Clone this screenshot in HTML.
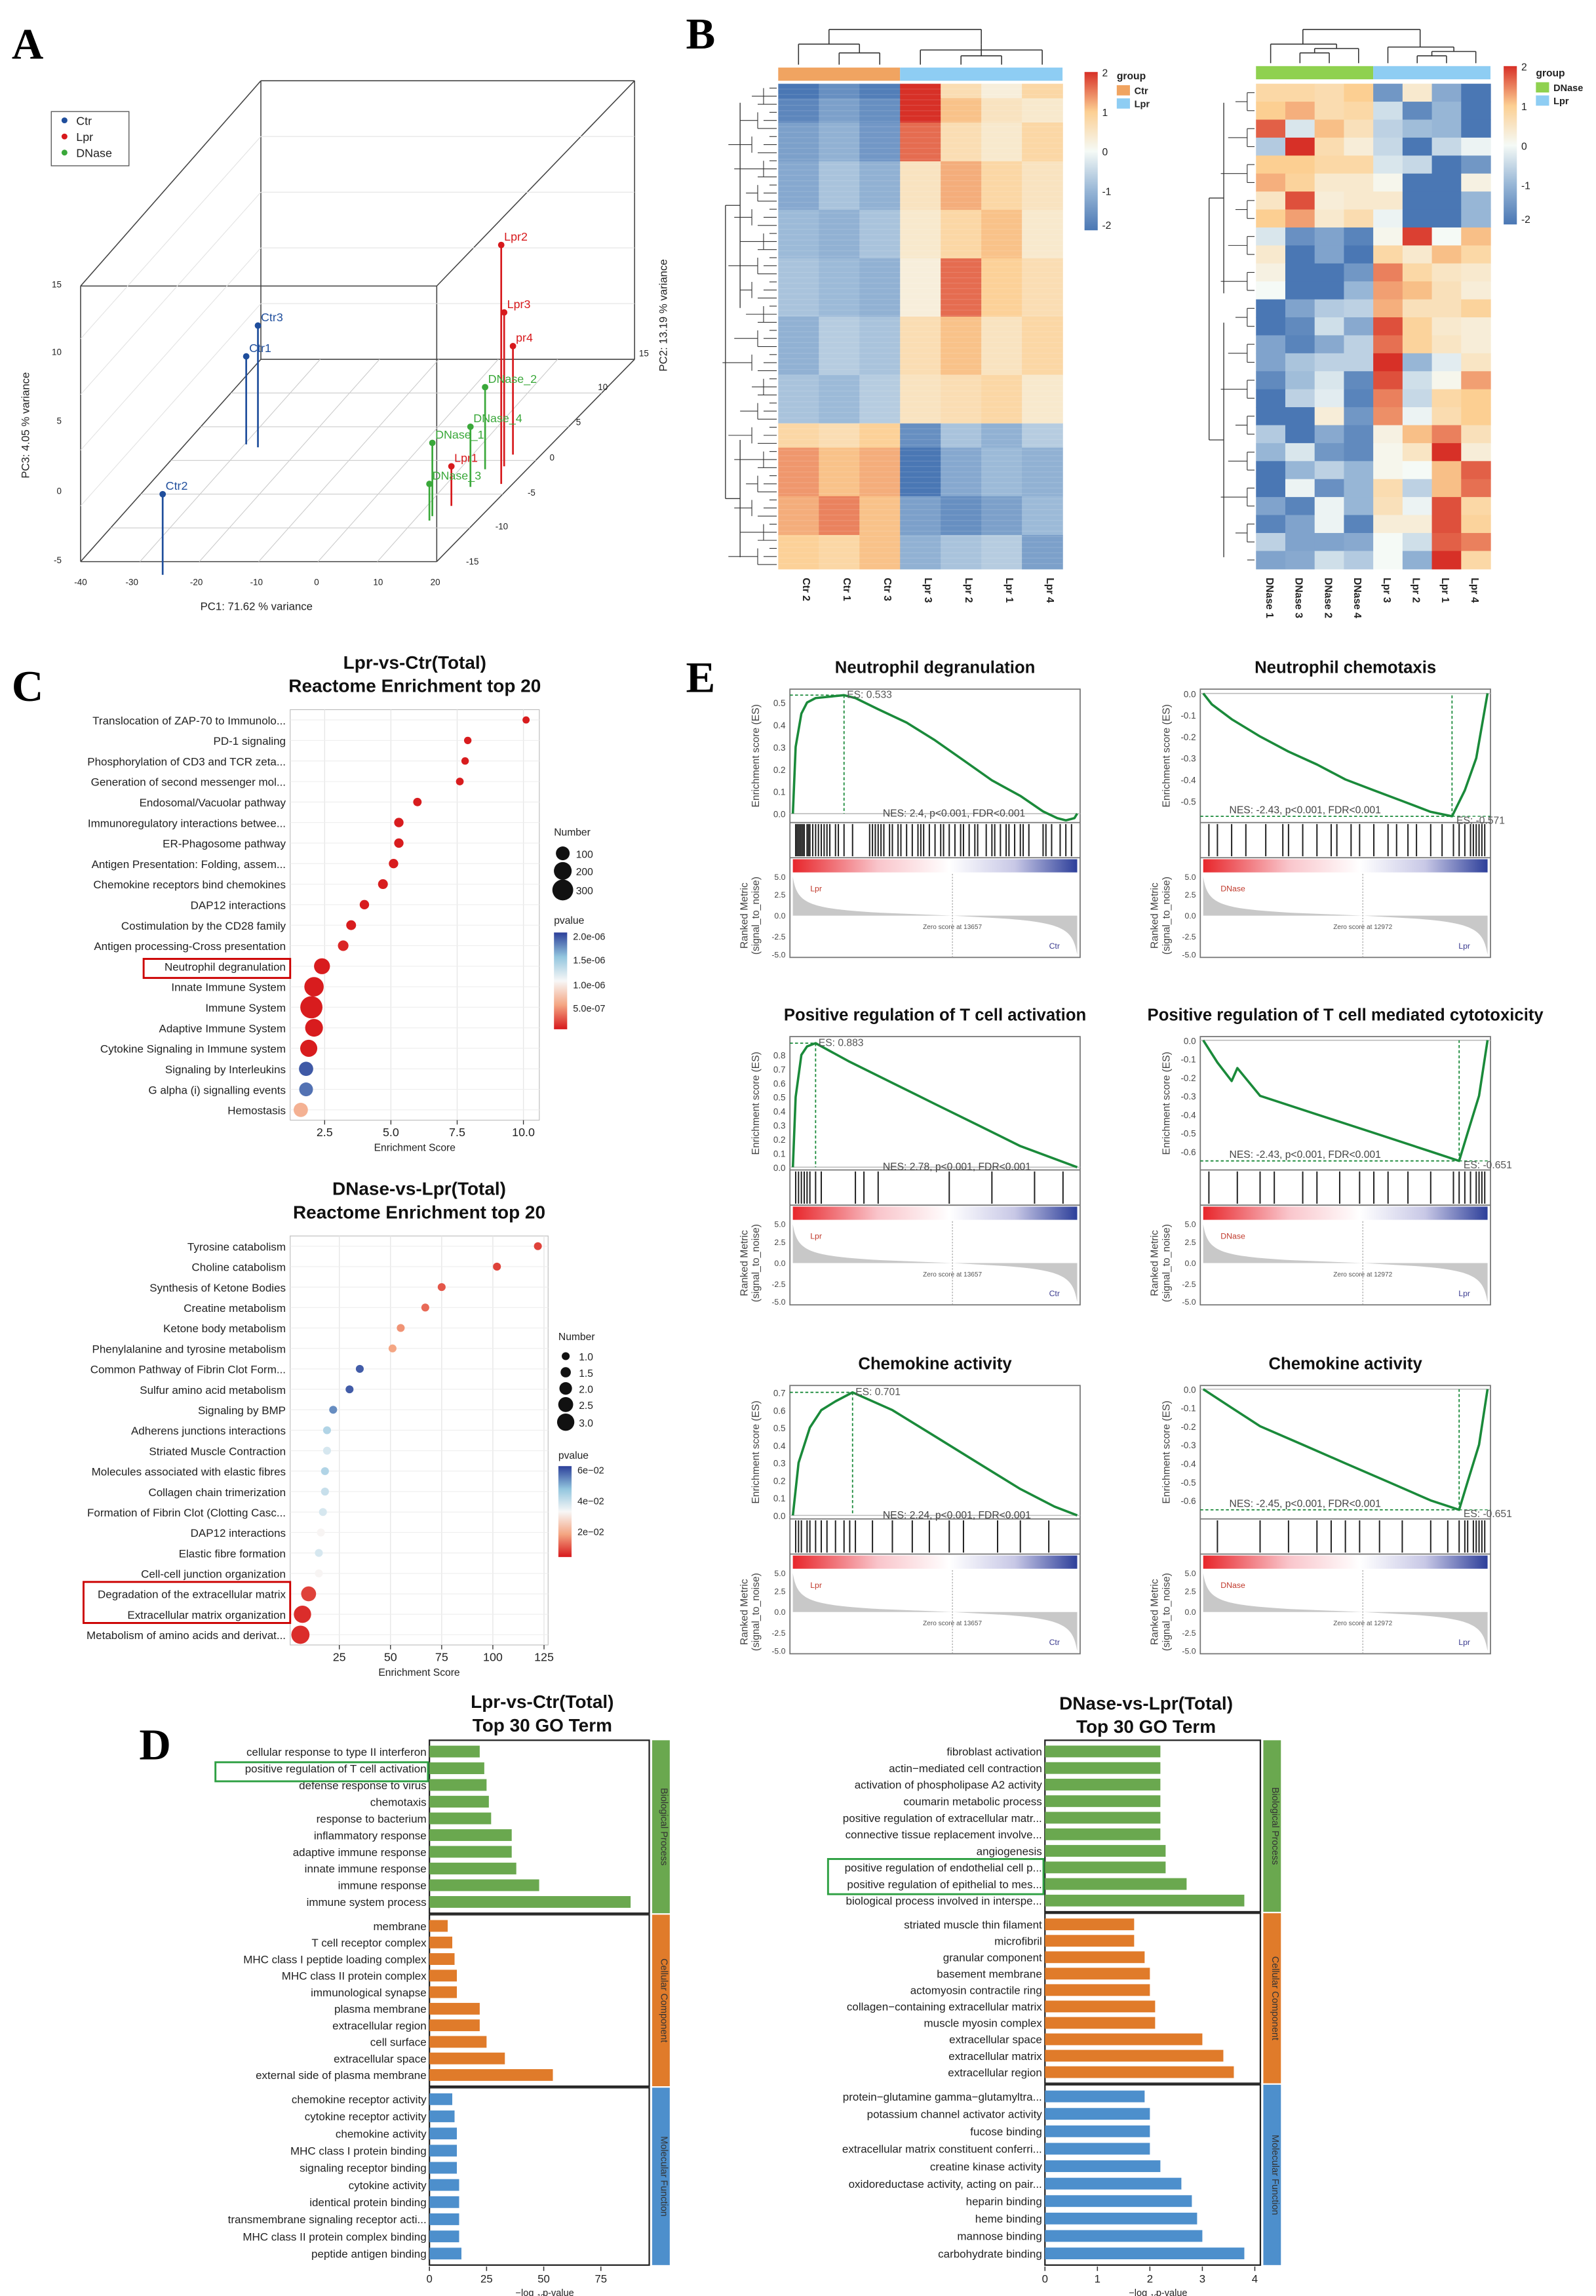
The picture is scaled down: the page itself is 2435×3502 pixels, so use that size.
<!DOCTYPE html>
<html><head><meta charset="utf-8"><style>
html,body{margin:0;padding:0;background:#fff;}
svg{display:block;font-family:"Liberation Sans",Arial,sans-serif;}
</style></head><body>
<svg id="fig" xmlns="http://www.w3.org/2000/svg" width="2435" height="3502" viewBox="0 0 1089 1566"></svg>
<script>
// ---------- DATA ----------
const pcaLabels=["Ctr1","Ctr2","Ctr3","Lpr1","Lpr2","Lpr3","pr4","DNase_1","DNase_2","DNase_3","DNase_4"];
const pcaGroup=["Ctr","Ctr","Ctr","Lpr","Lpr","Lpr","Lpr","DNase","DNase","DNase","DNase"];
const pcaPX=[168,111,176,308,342,344,350,295,331,293,321];
const pcaPY=[243,337,222,318,167,213,236,302,264,330,291];
const pcaBase=[303,392,305,345,330,318,310,352,320,355,332];
const hmLeftCols=["Ctr 2","Ctr 1","Ctr 3","Lpr 3","Lpr 2","Lpr 1","Lpr 4"];
const hmLeftBlockRows=[3,5,8,10,10,12,12,10,5,10,8,7];
const hmLeftBlockVals=[
[-1.5,-1.2,-1.4,1.8,0.5,0.2,0.6],[-1.3,-1.0,-1.2,1.5,0.8,0.4,0.3],[-1.0,-0.8,-1.1,1.2,0.5,0.3,0.6],
[-0.9,-0.6,-0.8,0.4,0.9,0.6,0.4],[-0.7,-0.8,-0.6,0.3,0.6,0.8,0.3],[-0.6,-0.7,-0.8,0.2,1.2,0.7,0.5],
[-0.8,-0.5,-0.6,0.5,0.8,0.4,0.6],[-0.6,-0.7,-0.5,0.4,0.5,0.6,0.3],[0.6,0.5,0.7,-1.2,-0.6,-0.8,-0.5],
[1.0,0.8,0.9,-1.5,-0.9,-0.7,-0.8],[0.9,1.1,0.8,-1.0,-1.2,-1.0,-0.7],[0.7,0.6,0.8,-0.8,-0.6,-0.5,-1.0]];
const hmRightCols=["DNase 1","DNase 3","DNase 2","DNase 4","Lpr 3","Lpr 2","Lpr 1","Lpr 4"];
const hmRight=[
[.8,.8,.7,1,-1.5,.4,-1.2,-2],[1,1.2,.7,.8,-.4,-1.7,-1,-2],[1.7,-.3,1.1,.6,-.6,-.9,-1,-2],
[-.7,2,.7,.3,-.5,-2,-.5,-.1],[1,1,.8,.8,-.3,-.5,-2,-1.5],[1.2,.9,.4,.4,.1,-2,-2,.2],
[.5,1.8,.3,.4,.4,-2,-2,-1],[1,1.3,.4,.7,-.1,-2,-2,-1],[-.3,-1.6,-1.3,-1.8,.1,1.9,0,1.1],
[.4,-2,-1.3,-2,.8,.4,1.1,.8],[.2,-2,-2,-1.5,1.5,.8,.5,.4],[0,-2,-2,-1,1.3,1.1,.6,.3],
[-2,-1.3,-.7,-.6,1.2,.6,.6,.9],[-2,-1.7,-.4,-1.2,1.8,.9,.4,.3],[-1.3,-1.8,-1.2,-.6,1.6,.9,.5,.3],
[-1.3,-.8,-.6,-.6,2.2,-1,-.2,.5],[-1.7,-.9,-.3,-1.7,1.8,-.4,.1,1.3],[-2,-.6,-.2,-1.8,1.5,-.5,.8,1],
[-2,-2,.3,-1.5,1.4,-.1,.7,1],[-.7,-2,-1.2,-1.7,.2,1.1,1.5,.6],[-1,-.3,-1.5,-1.7,.1,.5,2,.3],
[-2,-1,-.6,-1,.1,0,1.1,1.7],[-2,-.1,-1.6,-1,.7,-.6,1.1,1.6],[-1.3,-1.8,-.1,-1,.6,-.1,1.8,.8],
[-1.8,-1.3,-.1,-1.8,.3,.3,1.8,.9],[-.6,-1.3,-1.3,-1.2,0,-.4,1.7,1.5],[-1.3,-1.2,-.4,-.7,0,-1.1,2.2,.8]];
const c1Terms=["Translocation of ZAP-70 to Immunolo...","PD-1 signaling","Phosphorylation of CD3 and TCR zeta...","Generation of second messenger mol...","Endosomal/Vacuolar pathway","Immunoregulatory interactions betwee...","ER-Phagosome pathway","Antigen Presentation: Folding, assem...","Chemokine receptors bind chemokines","DAP12 interactions","Costimulation by the CD28 family","Antigen processing-Cross presentation","Neutrophil degranulation","Innate Immune System","Immune System","Adaptive Immune System","Cytokine Signaling in Immune system","Signaling by Interleukins","G alpha (i) signalling events","Hemostasis"];
const c1Score=[10.1,7.9,7.8,7.6,6.0,5.3,5.3,5.1,4.7,4.0,3.5,3.2,2.4,2.1,2.0,2.1,1.9,1.8,1.8,1.6];
const c1Count=[10,12,12,14,20,30,30,30,35,30,35,45,150,250,350,200,180,110,100,110];
const c1P=[1e-8,1e-8,1e-8,1e-8,1e-8,1e-8,1e-8,1e-8,1e-8,1e-8,1e-8,5e-8,1e-8,1e-8,1e-8,1e-8,1e-8,2.0e-6,1.9e-6,6e-7];
const c2Terms=["Tyrosine catabolism","Choline catabolism","Synthesis of Ketone Bodies","Creatine metabolism","Ketone body metabolism","Phenylalanine and tyrosine metabolism","Common Pathway of Fibrin Clot Form...","Sulfur amino acid metabolism","Signaling by BMP","Adherens junctions interactions","Striated Muscle Contraction","Molecules associated with elastic fibres","Collagen chain trimerization","Formation of Fibrin Clot (Clotting Casc...","DAP12 interactions","Elastic fibre formation","Cell-cell junction organization","Degradation of the extracellular matrix","Extracellular matrix organization","Metabolism of amino acids and derivat..."];
const c2Score=[122,102,75,67,55,51,35,30,22,19,19,18,18,17,16,15,15,10,7,6];
const c2Count=[1,1,1,1,1,1,1,1,1,1,1,1,1,1,1,1,1,2.5,3,3.2];
const c2P=[.012,.012,.014,.016,.02,.022,.06,.06,.055,.045,.04,.045,.042,.04,.035,.04,.035,.012,.01,.01];
const dLeftTerms=["cellular response to type II interferon","positive regulation of T cell activation","defense response to virus","chemotaxis","response to bacterium","inflammatory response","adaptive immune response","innate immune response","immune response","immune system process","membrane","T cell receptor complex","MHC class I peptide loading complex","MHC class II protein complex","immunological synapse","plasma membrane","extracellular region","cell surface","extracellular space","external side of plasma membrane","chemokine receptor activity","cytokine receptor activity","chemokine activity","MHC class I protein binding","signaling receptor binding","cytokine activity","identical protein binding","transmembrane signaling receptor acti...","MHC class II protein complex binding","peptide antigen binding"];
const dLeftVals=[22,24,25,26,27,36,36,38,48,88,8,10,11,12,12,22,22,25,33,54,10,11,12,12,12,13,13,13,13,14];
const dRightTerms=["fibroblast activation","actin\u2212mediated cell contraction","activation of phospholipase A2 activity","coumarin metabolic process","positive regulation of extracellular matr...","connective tissue replacement involve...","angiogenesis","positive regulation of endothelial cell p...","positive regulation of epithelial to mes...","biological process involved in interspe...","striated muscle thin filament","microfibril","granular component","basement membrane","actomyosin contractile ring","collagen\u2212containing extracellular matrix","muscle myosin complex","extracellular space","extracellular matrix","extracellular region","protein\u2212glutamine gamma\u2212glutamyltra...","potassium channel activator activity","fucose binding","extracellular matrix constituent conferri...","creatine kinase activity","oxidoreductase activity, acting on pair...","heparin binding","heme binding","mannose binding","carbohydrate binding"];
const dRightVals=[2.2,2.2,2.2,2.2,2.2,2.2,2.3,2.3,2.7,3.8,1.7,1.7,1.9,2.0,2.0,2.1,2.1,3.0,3.4,3.6,1.9,2.0,2.0,2.0,2.2,2.6,2.8,2.9,3.0,3.8];
const gTitles=["Neutrophil degranulation","Neutrophil chemotaxis","Positive regulation of T cell activation","Positive regulation of T cell mediated cytotoxicity","Chemokine activity","Chemokine activity"];
const gNES=["NES: 2.4, p<0.001, FDR<0.001","NES: -2.43, p<0.001, FDR<0.001","NES: 2.78, p<0.001, FDR<0.001","NES: -2.43, p<0.001, FDR<0.001","NES: 2.24, p<0.001, FDR<0.001","NES: -2.45, p<0.001, FDR<0.001"];
const gES=[0.533,-0.571,0.883,-0.651,0.701,-0.651];
const gPeakX=[0.18,0.875,0.08,0.9,0.21,0.9];
const gCurveX=[
[0,.01,.03,.05,.08,.12,.18,.22,.3,.4,.5,.6,.7,.8,.88,.93,.96,.99,1],
[0,.03,.1,.2,.3,.4,.5,.6,.7,.8,.875,.92,.96,1],
[0,.01,.03,.05,.08,.2,.35,.5,.65,.8,1],
[0,.05,.1,.12,.2,.4,.6,.8,.9,.93,.97,1],
[0,.02,.06,.1,.15,.21,.35,.5,.65,.8,.92,1],
[0,.1,.2,.35,.5,.65,.8,.9,.93,.97,1]];
const gCurveY=[
[0,.3,.45,.5,.52,.525,.533,.52,.47,.41,.33,.24,.15,.08,.01,-.02,-.03,-.02,0],
[0,-.05,-.12,-.2,-.27,-.33,-.4,-.45,-.5,-.55,-.571,-.45,-.3,0],
[0,.5,.8,.86,.883,.75,.6,.45,.3,.15,0],
[0,-.12,-.22,-.15,-.3,-.4,-.5,-.6,-.651,-.5,-.3,0],
[0,.3,.5,.6,.65,.701,.6,.45,.3,.15,.05,0],
[0,-.1,-.2,-.3,-.4,-.5,-.6,-.651,-.5,-.3,0]];
const gYMin=[-0.04,-0.6,-0.02,-0.7,-0.02,-0.7];
const gYMax=[0.56,0.02,0.93,0.02,0.74,0.02];
const gTicks=[[0,.1,.2,.3,.4,.5],[0,-.1,-.2,-.3,-.4,-.5],[0,.1,.2,.3,.4,.5,.6,.7,.8],[0,-.1,-.2,-.3,-.4,-.5,-.6],[0,.1,.2,.3,.4,.5,.6,.7],[0,-.1,-.2,-.3,-.4,-.5,-.6]];
const gHits=[
[.01,.015,.02,.025,.03,.035,.04,.05,.055,.06,.07,.08,.09,.1,.11,.12,.13,.15,.16,.18,.21,.27,.28,.29,.3,.31,.32,.34,.35,.37,.38,.4,.42,.44,.45,.46,.48,.5,.52,.53,.55,.57,.59,.6,.62,.64,.65,.68,.7,.71,.73,.75,.76,.78,.8,.81,.83,.88,.89,.91,.94,.96,.98],
[.02,.05,.1,.15,.22,.28,.3,.35,.4,.45,.47,.52,.55,.6,.65,.68,.72,.75,.8,.84,.88,.9,.92,.94,.95,.96,.97,.98,.99],
[.01,.02,.03,.04,.05,.06,.08,.1,.22,.25,.3,.55,.7,.85,.95],
[.02,.12,.2,.25,.35,.4,.48,.55,.6,.65,.72,.8,.88,.9,.92,.94,.96,.97,.98,.99],
[.01,.02,.03,.05,.06,.08,.1,.12,.15,.18,.2,.22,.28,.35,.42,.48,.55,.6,.72,.8,.9],
[.05,.2,.3,.4,.45,.5,.55,.62,.7,.8,.86,.9,.92,.93,.95,.96,.97,.98,.99]];
const gPos=["Lpr","DNase","Lpr","DNase","Lpr","DNase"];
const gNeg=["Ctr","Lpr","Ctr","Lpr","Ctr","Lpr"];
const gZero=["Zero score at 13657","Zero score at 12972","Zero score at 13657","Zero score at 12972","Zero score at 13657","Zero score at 12972"];

// ---------- HELPERS ----------
const NS="http://www.w3.org/2000/svg";
const svg=document.getElementById('fig');
function mk(tag,a,name,p){const e=document.createElementNS(NS,tag);for(const k in a)e.setAttribute(k,a[k]);


(p||svg).appendChild(e);return e;}
function tx(x,y,s,size,name,o){o=o||{};const e=mk('text',Object.assign({x:x,y:y,'font-size':size,fill:o.fill||'#222','text-anchor':o.anchor||'start'},o.attr||{}),name);if(o.bold)e.setAttribute('font-weight','bold');if(o.rot)e.setAttribute('transform','rotate('+o.rot+' '+x+' '+y+')');e.textContent=s;return e;}
function ln(x1,y1,x2,y2,c,w,name,dash){const a={x1:x1,y1:y1,x2:x2,y2:y2,stroke:c,'stroke-width':w};if(dash)a['stroke-dasharray']=dash;return mk('line',a,name);}
function rc(x,y,w,h,f,name,s,sw){const a={x:x,y:y,width:w,height:h,fill:f};if(s){a.stroke=s;a['stroke-width']=sw||1;}return mk('rect',a,name);}
function hexmix(a,b,t){const pa=[1,3,5].map(i=>parseInt(a.substr(i,2),16)),pb=[1,3,5].map(i=>parseInt(b.substr(i,2),16));return 'rgb('+pa.map((v,i)=>Math.round(v+(pb[i]-v)*t)).join(',')+')';}
const hmStops=['#4a77b4','#97b6d6','#f5faf6','#fccf92','#d73027'];
function hmColor(v){v=Math.max(-2,Math.min(2,v));const p=(v+2);const i=Math.min(3,Math.floor(p));return hexmix(hmStops[i],hmStops[i+1],p-i);}
rc(0,0,1089,1566,'#fff','background');

[["A",8,40],["B",468,33],["C",8,478],["E",468,472],["D",95,1200]].forEach(L=>{tx(L[1],L[2],L[0],30,'panel-label-'+L[0].toLowerCase(),{bold:true,fill:'#000',attr:{'font-family':'Liberation Serif, serif'}});});

// ---------- PANEL A ----------
(function(){
const c='#444';
[[55,195,55,383],[55,383,298,383],[298,383,298,195],[55,195,298,195],[178,55,433,55],[433,55,433,245],[55,195,178,55],[298,195,433,55],[298,383,433,245],[55,383,178,245],[178,245,433,245],[178,55,178,245]].forEach(s=>ln(s[0],s[1],s[2],s[3],c,0.7,'pca-box-edge'));
for(let i=1;i<6;i++){const x=55+i*243/6;ln(x,383,x+123,245,'#ccc',0.5,'pca-floor-grid');}
for(let i=1;i<6;i++){const t=i/6;ln(55+123*t,383-138*t,298+135*t,383-138*t,'#ccc',0.5,'pca-floor-grid');}
for(let i=1;i<5;i++){const y=245-i*190/5;ln(178,y,433,y,'#e3e3e3',0.5,'pca-back-grid');ln(55,y+138,178,y,'#e3e3e3',0.5,'pca-side-grid');}
const col={Ctr:'#1f4e9c',Lpr:'#d7191c',DNase:'#3aa83a'};
pcaLabels.forEach((l,i)=>{const cc=col[pcaGroup[i]];ln(pcaPX[i],pcaPY[i],pcaPX[i],pcaBase[i],cc,1.2,'pca-stem-'+l);mk('circle',{cx:pcaPX[i],cy:pcaPY[i],r:2.2,fill:cc},'pca-point-'+l);tx(pcaPX[i]+2,pcaPY[i]-3,l,8,'pca-label-'+l,{fill:cc});});
[["-40",55],["-30",90],["-20",134],["-10",175],["0",216],["10",258],["20",297]].forEach(t=>tx(t[1],399,t[0],6,'pc1-tick',{anchor:'middle'}));
tx(175,416,'PC1: 71.62 % variance',7.5,'pc1-axis-title',{anchor:'middle'});
[["15",196],["10",242],["5",289],["0",337],["-5",384]].forEach(t=>tx(42,t[1],t[0],6,'pc3-tick',{anchor:'end'}));
tx(20,290,'PC3: 4.05 % variance',7.5,'pc3-axis-title',{anchor:'middle',rot:-90});
[["15",436,243],["10",408,266],["5",393,290],["0",375,314],["-5",360,338],["-10",338,361],["-15",318,385]].forEach(t=>tx(t[1],t[2],t[0],6,'pc2-tick'));
tx(455,215,'PC2: 13.19 % variance',7.5,'pc2-axis-title',{anchor:'middle',rot:-90});
rc(35,76,53,37,'#fff','pca-legend-box','#555',0.6);
[["Ctr",col.Ctr,85],["Lpr",col.Lpr,96],["DNase",col.DNase,107]].forEach(l=>{mk('circle',{cx:44,cy:l[2]-3,r:2,fill:l[1]},'pca-legend-marker');tx(52,l[2],l[0],8,'pca-legend-label');});
})();

// ---------- PANEL B ----------
(function(){
const x0=531,y0=57,w=194,h=331,cw=w/7;let acc=0;const tot=hmLeftBlockRows.reduce((a,b)=>a+b,0);
const vis=1.35;
hmLeftBlockRows.forEach((r,bi)=>{const yy=y0+acc/tot*h,hh=r/tot*h;hmLeftBlockVals[bi].forEach((v,ci)=>rc(x0+ci*cw,yy,cw+0.3,hh+0.3,hmColor(v*vis),'heatmap-left-cell'));acc+=r;});
for(let i=0;i<90;i++){const yy=y0+i*h/90;mk('line',{x1:x0,y1:yy,x2:x0+w,y2:yy,stroke:'#fff','stroke-opacity':0.12,'stroke-width':0.6},'heatmap-left-row-sep');}
rc(x0,46,cw*3,9,'#f0a461','group-bar-ctr');rc(x0+cw*3,46,cw*4,9,'#8ecdf3','group-bar-lpr');
hmLeftCols.forEach((c,i)=>tx(x0+cw*i+cw/2+3,394,c,7,'heatmap-left-col-label',{bold:true,rot:90}));
[[x0+cw*0.5,44,x0+cw*0.5,30],[x0+cw*1.5,44,x0+cw*1.5,36],[x0+cw*2.5,44,x0+cw*2.5,36],[x0+cw*1.5,36,x0+cw*2.5,36],[x0+cw*2,36,x0+cw*2,30],[x0+cw*0.5,30,x0+cw*2,30],
[x0+cw*3.5,44,x0+cw*3.5,34],[x0+cw*4.5,44,x0+cw*4.5,38],[x0+cw*5.5,44,x0+cw*5.5,38],[x0+cw*4.5,38,x0+cw*5.5,38],[x0+cw*6.5,44,x0+cw*6.5,34],[x0+cw*5,38,x0+cw*5,34],[x0+cw*3.5,34,x0+cw*6.5,34],[x0+cw*5,34,x0+cw*5,30],
[x0+cw*1.25,30,x0+cw*1.25,20],[x0+cw*5,30,x0+cw*5,20],[x0+cw*1.25,20,x0+cw*5,20]].forEach(s=>ln(s[0],s[1],s[2],s[3],'#333',0.7,'heatmap-left-col-dendrogram'));
for(let i=0;i<60;i++){const y=y0+3+i*(h-6)/59;ln(x0-1,y,x0-6-(i%3)*4,y,'#333',0.5,'heatmap-left-row-dendrogram');}
for(let i=0;i<20;i++){const y1=y0+3+i*3*(h-6)/59,y2=y1+2*(h-6)/59,xx=x0-6-(i%3)*4-4;ln(xx,y1,xx,y2,'#333',0.5,'heatmap-left-row-dendrogram');ln(xx,(y1+y2)/2,xx-8-(i%4)*4,(y1+y2)/2,'#333',0.5,'heatmap-left-row-dendrogram');}
ln(495,140,495,340,'#333',0.6,'heatmap-left-row-dendrogram');ln(495,140,505,140,'#333',0.6,'heatmap-left-row-dendrogram');ln(495,340,505,340,'#333',0.6,'heatmap-left-row-dendrogram');
ln(505,70,505,210,'#333',0.6,'heatmap-left-row-dendrogram');ln(505,300,505,380,'#333',0.6,'heatmap-left-row-dendrogram');
function cbar(x,y,nm){const g=mk('linearGradient',{id:nm+'-g',x1:0,y1:1,x2:0,y2:0},nm+'-gradient');hmStops.forEach((c,i)=>mk('stop',{offset:i/4,'stop-color':c},'gradient-stop',g));rc(x,y,9,108,'url(#'+nm+'-g)',nm);
[["2",0],["1",27],["0",54],["-1",81],["-2",104]].forEach(t=>tx(x+12,y+t[1]+3,t[0],7,nm+'-tick'));}
cbar(740,49,'heatmap-left-colorbar');
tx(762,54,'group',7,'heatmap-left-legend-title',{bold:true});rc(762,58,9,7,'#f0a461','legend-ctr-swatch');tx(774,64,'Ctr',6.5,'legend-ctr-label',{bold:true});rc(762,67,9,7,'#8ecdf3','legend-lpr-swatch');tx(774,73,'Lpr',6.5,'legend-lpr-label',{bold:true});
const rx=857,ry=57,rw=160,rh=331,rcw=rw/8,rrh=rh/hmRight.length;
hmRight.forEach((row,ri)=>row.forEach((v,ci)=>rc(rx+ci*rcw,ry+ri*rrh,rcw+0.3,rrh+0.3,hmColor(v),'heatmap-right-cell')));
rc(rx,45,rcw*4,9,'#8fd14f','group-bar-dnase');rc(rx+rcw*4,45,rcw*4,9,'#8ecdf3','group-bar-lpr-right');
hmRightCols.forEach((c,i)=>tx(rx+rcw*i+rcw/2-3,394,c,7,'heatmap-right-col-label',{bold:true,rot:90}));
[[rx+rcw*.5,43,rx+rcw*.5,30],[rx+rcw*1.5,43,rx+rcw*1.5,36],[rx+rcw*2.5,43,rx+rcw*2.5,36],[rx+rcw*3.5,43,rx+rcw*3.5,33],[rx+rcw*1.5,36,rx+rcw*2.5,36],[rx+rcw*2,36,rx+rcw*2,33],[rx+rcw*2,33,rx+rcw*3.5,33],[rx+rcw*2.75,33,rx+rcw*2.75,30],[rx+rcw*.5,30,rx+rcw*2.75,30],
[rx+rcw*4.5,43,rx+rcw*4.5,32],[rx+rcw*5.5,43,rx+rcw*5.5,38],[rx+rcw*6.5,43,rx+rcw*6.5,38],[rx+rcw*5.5,38,rx+rcw*6.5,38],[rx+rcw*7.5,43,rx+rcw*7.5,35],[rx+rcw*6,38,rx+rcw*6,35],[rx+rcw*6,35,rx+rcw*7.5,35],[rx+rcw*6.75,35,rx+rcw*6.75,32],[rx+rcw*4.5,32,rx+rcw*6.75,32],
[rx+rcw*1.6,30,rx+rcw*1.6,20],[rx+rcw*5.6,32,rx+rcw*5.6,20],[rx+rcw*1.6,20,rx+rcw*5.6,20]].forEach(s=>ln(s[0],s[1],s[2],s[3],'#333',0.7,'heatmap-right-col-dendrogram'));
hmRight.forEach((r,i)=>{const y=ry+(i+.5)*rrh;ln(rx-1,y,rx-6,y,'#333',0.5,'heatmap-right-row-dendrogram');});
for(let i=0;i<13;i++){const y1=ry+(2*i+.5)*rrh,y2=y1+rrh;ln(rx-6,y1,rx-6,y2,'#333',0.5,'heatmap-right-row-dendrogram');ln(rx-6,(y1+y2)/2,rx-14-(i%3)*5,(y1+y2)/2,'#333',0.5,'heatmap-right-row-dendrogram');}
ln(835,70,835,200,'#333',0.6,'heatmap-right-row-dendrogram');ln(835,220,835,380,'#333',0.6,'heatmap-right-row-dendrogram');ln(825,135,825,300,'#333',0.6,'heatmap-right-row-dendrogram');ln(825,135,835,135,'#333',0.6,'heatmap-right-row-dendrogram');ln(825,300,835,300,'#333',0.6,'heatmap-right-row-dendrogram');
cbar(1026,45,'heatmap-right-colorbar');
tx(1048,52,'group',7,'heatmap-right-legend-title',{bold:true});rc(1048,56,9,7,'#8fd14f','legend-dnase-swatch');tx(1060,62,'DNase',6.5,'legend-dnase-label',{bold:true});rc(1048,65,9,7,'#8ecdf3','legend-lpr-right-swatch');tx(1060,71,'Lpr',6.5,'legend-lpr-right-label',{bold:true});
})();

// ---------- PANEL C ----------
function pColor(t){const st=['#d7191c','#f4a582','#f7f7f7','#92c5de','#2c3f99'];t=Math.max(0,Math.min(1,t));const p=t*4,i=Math.min(3,Math.floor(p));return hexmix(st[i],st[i+1],p-i);}
function dotPlot(o){
const xs=v=>o.x0+(v-o.xmin)/(o.xmax-o.xmin)*o.pw;
rc(o.x0,o.y0,o.pw,o.ph,'#fff',o.nm+'-plot-area','#bbb',0.5);
o.ticks.forEach(t=>{ln(xs(t),o.y0,xs(t),o.y0+o.ph,'#e6e6e6',0.6,o.nm+'-gridline');ln(xs(t),o.y0+o.ph,xs(t),o.y0+o.ph+3,'#333',0.6,o.nm+'-tick');tx(xs(t),o.y0+o.ph+11,o.tl(t),8,o.nm+'-tick-label',{anchor:'middle'});});
const step=o.ph/o.terms.length;
o.terms.forEach((t,i)=>{const y=o.y0+step*(i+.5);ln(o.x0,y,o.x0+o.pw,y,'#eee',0.5,o.nm+'-row-grid');tx(o.x0-3,y+3,t,7.6,o.nm+'-term-label',{anchor:'end'});
mk('circle',{cx:xs(o.score[i]),cy:y,r:o.rad(o.count[i]),fill:pColor(o.pc(o.p[i]))},o.nm+'-dot');});
tx(o.x0+o.pw/2,o.y0+o.ph+21,'Enrichment Score',7,o.nm+'-x-title',{anchor:'middle'});
tx(o.x0+o.pw/2,o.ty,o.t1,12.5,o.nm+'-title',{anchor:'middle',bold:true,fill:'#111'});
tx(o.x0+o.pw/2,o.ty+16,o.t2,12.5,o.nm+'-subtitle',{anchor:'middle',bold:true,fill:'#111'});
}
dotPlot({nm:'c-top',x0:198,y0:484,pw:170,ph:280,xmin:1.2,xmax:10.6,ticks:[2.5,5,7.5,10],tl:t=>t.toFixed(1),terms:c1Terms,score:c1Score,count:c1Count,p:c1P,rad:n=>1.4+Math.sqrt(n)*0.33,pc:p=>p/2.1e-6,ty:456,t1:'Lpr-vs-Ctr(Total)',t2:'Reactome Enrichment top 20'});
dotPlot({nm:'c-bottom',x0:198,y0:843,pw:176,ph:279,xmin:1,xmax:127,ticks:[25,50,75,100,125],tl:t=>String(t),terms:c2Terms,score:c2Score,count:c2Count,p:c2P,rad:n=>1.1+n*1.6,pc:p=>(p-.008)/.055,ty:815,t1:'DNase-vs-Lpr(Total)',t2:'Reactome Enrichment top 20'});
(function(){
tx(378,570,'Number',7,'c-top-size-legend-title');
[[100,582],[200,594],[300,607]].forEach(s=>{mk('circle',{cx:384,cy:s[1],r:1.4+Math.sqrt(s[0])*0.33,fill:'#111'},'c-top-size-legend-dot');tx(393,s[1]+3,String(s[0]),7,'c-top-size-legend-label');});
tx(378,630,'pvalue',7,'c-top-color-legend-title');
const g=mk('linearGradient',{id:'pv1',x1:0,y1:1,x2:0,y2:0},'pvalue-gradient');['#d7191c','#f4a582','#f7f7f7','#92c5de','#2c3f99'].forEach((c,i)=>mk('stop',{offset:i/4,'stop-color':c},'gradient-stop',g));
rc(378,636,9,66,'url(#pv1)','c-top-colorbar');
[["2.0e-06",639],["1.5e-06",655],["1.0e-06",672],["5.0e-07",688]].forEach(t=>tx(391,t[1]+2,t[0],6.5,'c-top-colorbar-label'));
tx(381,914,'Number',7,'c-bottom-size-legend-title');
[[1.0,925],[1.5,936],[2.0,947],[2.5,958],[3.0,970]].forEach(s=>{mk('circle',{cx:386,cy:s[1],r:1.1+s[0]*1.6,fill:'#111'},'c-bottom-size-legend-dot');tx(395,s[1]+3,s[0].toFixed(1),7,'c-bottom-size-legend-label');});
tx(381,995,'pvalue',7,'c-bottom-color-legend-title');
rc(381,1000,9,62,'url(#pv1)','c-bottom-colorbar');
[["6e\u221202",1003],["4e\u221202",1024],["2e\u221202",1045]].forEach(t=>tx(394,t[1]+2,t[0],6.5,'c-bottom-colorbar-label'));
rc(98,654,100,13,'none','highlight-neutrophil-degranulation','#c00',1.3);
rc(57,1079,141,28,'none','highlight-ecm-terms','#c00',1.3);
})();

// ---------- PANEL E ----------
(function(){
const cols=[539,819],rows=[470,707,945],W=198;
gTitles.forEach((title,k)=>{
const X=cols[k%2],T=rows[Math.floor(k/2)];
tx(X+W/2,T-11,title,11.5,'gsea-title',{anchor:'middle',bold:true,fill:'#111'});
const esH=91,bcY=T+91,bcH=24,grY=bcY+24,grH=11,rkY=grY+11,rkH=57;
rc(X,T,W,183,'#fff','gsea-frame','#777',0.8);
ln(X,bcY,X+W,bcY,'#777',0.8,'gsea-divider');ln(X,grY,X+W,grY,'#777',0.8,'gsea-divider');
const xs=f=>X+W*0.01+f*W*0.98, ys=v=>T+esH*(1-(v-gYMin[k])/(gYMax[k]-gYMin[k]));
gTicks[k].forEach(t=>{tx(X-3,ys(t)+2.5,t.toFixed(1),6,'gsea-es-tick',{anchor:'end',fill:'#444'});});
ln(X,ys(0),X+W,ys(0),'#bbb',0.7,'gsea-zero-line');
tx(X-21,T+esH/2,'Enrichment score (ES)',7,'gsea-es-axis-title',{anchor:'middle',rot:-90,fill:'#444'});
const px=xs(gPeakX[k]),py=ys(gES[k]);
ln(X,py,px,py,'#1a8a3a',0.8,'gsea-peak-hline','2,1.5');ln(px,py,px,ys(0),'#1a8a3a',0.8,'gsea-peak-vline','2,1.5');
if(gES[k]<0)ln(px,py,X+W,py,'#1a8a3a',0.6,'gsea-peak-hline','2,1.5');
let d='';gCurveX[k].forEach((f,i)=>{d+=(i?'L':'M')+xs(f).toFixed(1)+','+ys(gCurveY[k][i]).toFixed(1);});
mk('path',{d:d,fill:'none',stroke:'#1a8a3a','stroke-width':1.6,'stroke-linejoin':'round'},'gsea-es-curve');
if(gES[k]>0){tx(px+2,py+2,'ES: '+gES[k],7,'gsea-es-value',{fill:'#555'});tx(X+W*0.32,ys(0)+2,gNES[k],7,'gsea-nes-text',{fill:'#444'});}
else{tx(px+3,py+5,'ES: '+gES[k],7,'gsea-es-value',{fill:'#555'});tx(X+W*0.1,ys(gES[k])-2,gNES[k],7,'gsea-nes-text',{fill:'#444'});}
gHits[k].forEach(h=>ln(xs(h),bcY+1,xs(h),bcY+bcH-1,'#222',0.9,'gsea-hit'));
const gid='gg'+k;const g=mk('linearGradient',{id:gid,x1:0,y1:0,x2:1,y2:0},'gsea-rank-gradient');
[['#e8262b',0],['#f9c5cb',.3],['#ffffff',.55],['#c8c8e6',.78],['#2d3f9a',1]].forEach(s=>mk('stop',{offset:s[1],'stop-color':s[0]},'gradient-stop',g));
rc(X+W*0.01,grY+1,W*0.98,grH-2,'url(#'+gid+')','gsea-rank-colorbar');
const z=rkY+rkH*0.5;const x1=X+W*0.01,x2=X+W*0.99;
mk('path',{d:`M${x1},${rkY+2} C${x1+3},${z-8} ${x1+10},${z-5} ${x1+W*0.3},${z-2} L${x1+W*0.55},${z} L${x2-W*0.25},${z+2} C${x2-8},${z+5} ${x2-3},${z+10} ${x2},${rkY+rkH-2} L${x2},${z} L${x1},${z} Z`,fill:'#c8c8c8'},'gsea-ranked-metric-area');
ln(X+W*0.56,rkY,X+W*0.56,rkY+rkH,'#999',0.5,'gsea-zero-cross-line','1,1');
[["5.0",2],["2.5",rkH*0.25],["0.0",rkH*0.5],["-2.5",rkH*0.75],["-5.0",rkH-2]].forEach(t=>tx(X-3,rkY+t[1]+2,t[0],5.5,'gsea-rank-tick',{anchor:'end',fill:'#444'}));
tx(X-29,rkY+rkH/2,'Ranked Metric',7,'gsea-rank-axis-title',{anchor:'middle',rot:-90,fill:'#444'});
tx(X-21,rkY+rkH/2,'(signal_to_noise)',7,'gsea-rank-axis-title',{anchor:'middle',rot:-90,fill:'#444'});
tx(X+W*0.07,rkY+12,gPos[k],5.5,'gsea-pos-label',{fill:'#c0392b'});
tx(X+W*0.93,rkY+rkH-6,gNeg[k],5.5,'gsea-neg-label',{anchor:'end',fill:'#3b3b8f'});
tx(X+W*0.56,rkY+rkH*0.66,gZero[k],4.5,'gsea-zero-score-text',{anchor:'middle',fill:'#555'});
});
})();

// ---------- PANEL D ----------
function goBars(o){
const xs=v=>o.x0+v*o.k;
const secs=[['Biological Process','#6aa84f'],['Cellular Component','#e07b2a'],['Molecular Function','#4d8fcc']];
secs.forEach((s,si)=>{const top=o.secTop[si],bot=o.secTop[si+1]-1;rc(o.x0,top,o.pw,bot-top,'#fff',o.nm+'-section-box','#222',1);
rc(o.x0+o.pw+2,top,12,bot-top,s[1],o.nm+'-section-strip');tx(o.x0+o.pw+8,(top+bot)/2,s[0],6.5,o.nm+'-section-label',{anchor:'middle',rot:90,fill:'#333'});
for(let j=0;j<10;j++){const i=si*10+j;const y=top+2+(bot-top-4)*(j+.5)/10;
rc(o.x0,y-4,xs(o.vals[i])-o.x0,8,s[1],o.nm+'-bar');
tx(o.x0-2,y+2.8,o.terms[i],7.6,o.nm+'-term-label',{anchor:'end',fill:'#222'});}});
const b=o.secTop[3];o.ticks.forEach(t=>{ln(xs(t),b,xs(t),b+3,'#333',0.7,o.nm+'-x-tick');tx(xs(t),b+11,String(t),7.5,o.nm+'-x-tick-label',{anchor:'middle'});});
tx(o.x0+o.pw/2-10,b+20,'\u2212log',6.5,o.nm+'-x-axis-title',{anchor:'middle'});
tx(o.x0+o.pw/2+13,b+20,'p-value',6.5,o.nm+'-x-axis-title',{anchor:'middle'});
tx(o.x0+o.pw/2+1,b+22,'10',4.5,o.nm+'-x-axis-title-sub',{anchor:'middle'});
tx(o.tx,o.ty,o.t1,12.5,o.nm+'-title',{anchor:'middle',bold:true,fill:'#111'});
tx(o.tx,o.ty+16,'Top 30 GO Term',12.5,o.nm+'-subtitle',{anchor:'middle',bold:true,fill:'#111'});
}
goBars({nm:'d-left',x0:293,pw:150,k:1.56,secTop:[1187,1306,1424,1546],vals:dLeftVals,terms:dLeftTerms,ticks:[0,25,50,75],tx:370,ty:1165,t1:'Lpr-vs-Ctr(Total)'});
goBars({nm:'d-right',x0:713,pw:147,k:35.8,secTop:[1187,1305,1422,1546],vals:dRightVals,terms:dRightTerms,ticks:[0,1,2,3,4],tx:782,ty:1166,t1:'DNase-vs-Lpr(Total)'});
rc(147,1202,145,13,'none','highlight-t-cell-activation','#2ea043',1.3);
rc(565,1268,147,24,'none','highlight-endothelial-epithelial','#2ea043',1.3);
</script>
</body></html>
